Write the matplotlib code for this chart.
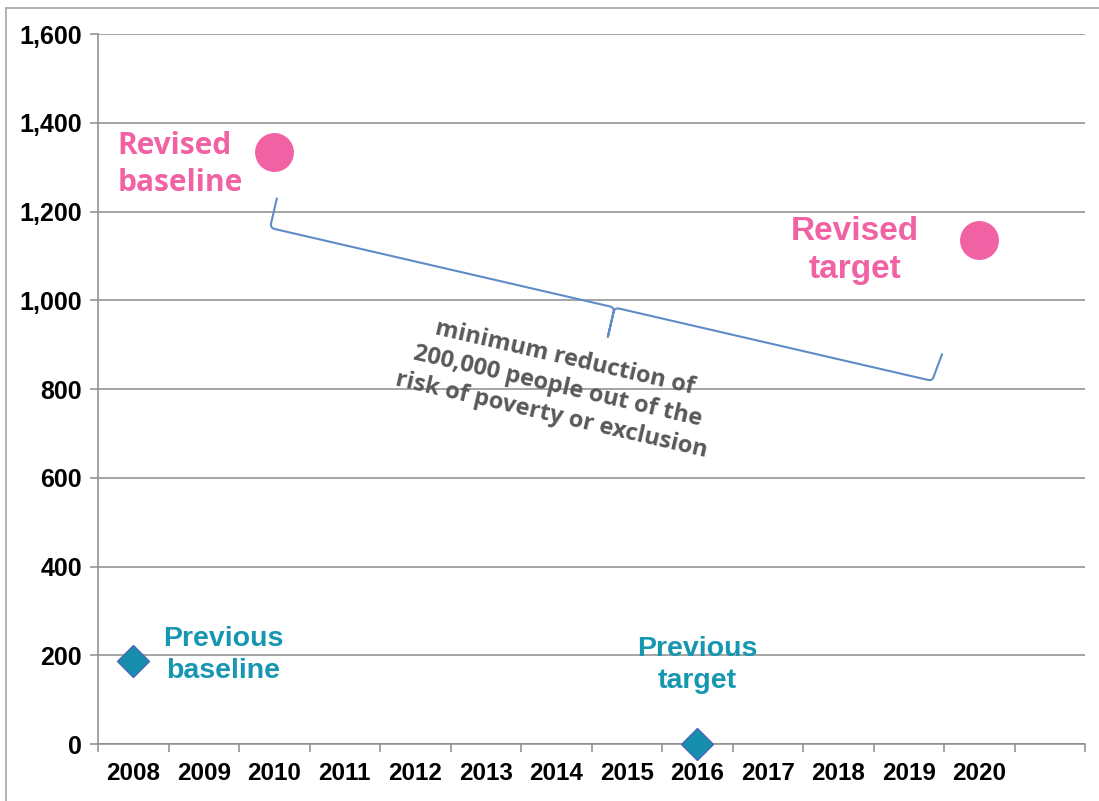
import numpy as np
import matplotlib.pyplot as plt
from matplotlib.lines import Line2D

# categories on the x axis (last slot is empty in the original chart)
years = ["2008", "2009", "2010", "2011", "2012", "2013", "2014",
         "2015", "2016", "2017", "2018", "2019", "2020", ""]

revised_years = ["2010", "2020"]
revised_values = [1335, 1135]
revised_labels = ["Revised\nbaseline", "Revised\ntarget"]

previous_years = ["2008", "2016"]
previous_values = [188, 0]
previous_labels = ["Previous\nbaseline", "Previous\ntarget"]

brace_text = "minimum reduction of\n200,000 people out of the\nrisk of poverty or exclusion"
brace_start = (1.94, 1163)   # data coords of the brace ends
brace_end = (11.34, 818)
brace_text_pos = (6.02, 805)

PINK = "#F062A4"
TEAL = "#1696B0"
DIAMOND = "#168FAF"
GRID = "#8C8C8C"
BRACE = "#5F8CC8"

W, H = 1099, 801
fig = plt.figure(figsize=(W / 100, H / 100), dpi=100)
ax = fig.add_axes([98 / W, 57 / H, 987 / W, 710 / H])

xpos = {y: i for i, y in enumerate(years)}
ax.set_xlim(-0.5, len(years) - 0.5)
ax.set_ylim(0, 1600)

# grid + axes styling
ax.set_yticks(np.arange(0, 1601, 200))
ax.set_yticklabels([f"{v:,}" for v in range(0, 1601, 200)])
ax.yaxis.grid(True, color=GRID, lw=1.1)
ax.set_axisbelow(True)
ax.set_xticks(np.arange(-0.5, len(years), 1.0))
ax.set_xticklabels([])
ax.set_xticks(np.arange(len(years)), minor=True)
ax.set_xticklabels(years, minor=True)
ax.tick_params(axis="x", which="major", length=6, width=1.1, color=GRID)
ax.tick_params(axis="x", which="minor", length=0, pad=13)
ax.tick_params(axis="y", length=5.5, width=1.1, color=GRID, pad=6)
for lab in ax.get_xticklabels(minor=True):
    lab.set_fontfamily("Liberation Sans")
    lab.set_fontweight("bold")
    lab.set_fontsize(17.5)
for lab in ax.get_yticklabels():
    lab.set_fontfamily("Liberation Sans")
    lab.set_fontweight("bold")
    lab.set_fontsize(18)
for s in ["top", "right"]:
    ax.spines[s].set_visible(False)
for s in ["left", "bottom"]:
    ax.spines[s].set_color(GRID)
    ax.spines[s].set_linewidth(1.1)

# points
rx = [xpos[y] for y in revised_years]
px = [xpos[y] for y in previous_years]
ax.plot(rx, revised_values, "o", ms=27, color=PINK, mec=PINK, ls="none",
        clip_on=False, zorder=5)
ax.plot(px, previous_values, "D", ms=16.5, color=DIAMOND, mec="#4A64BA",
        mew=1.0, ls="none", clip_on=False, zorder=5)

# labels (offsets in pixels)
ax.annotate(revised_labels[0], (rx[0], revised_values[0]), xytext=(-157, -13),
            textcoords="offset pixels", ha="left", va="center", color=PINK,
            fontsize=21.5, fontweight="bold", family="Open Sans", linespacing=1.3)
ax.annotate(revised_labels[1], (rx[1], revised_values[1]), xytext=(-124, -10),
            textcoords="offset pixels", ha="center", va="center", color=PINK,
            fontsize=24, fontweight="bold", family="Liberation Sans", linespacing=1.3)
ax.annotate(previous_labels[0], (px[0], previous_values[0]), xytext=(90, 6),
            textcoords="offset pixels", ha="center", va="center", color=TEAL,
            fontsize=20.5, fontweight="bold", family="Liberation Sans", linespacing=1.3)
ax.annotate(previous_labels[1], (px[1], previous_values[1]), xytext=(0, 79),
            textcoords="offset pixels", ha="center", va="center", color=TEAL,
            fontsize=20.5, fontweight="bold", family="Liberation Sans", linespacing=1.3)

# curly brace, built in display space then mapped back to data
p0 = ax.transData.transform(brace_start)
p1 = ax.transData.transform(brace_end)
d = p1 - p0
L = np.hypot(*d)
u = d / L
n = np.array([-u[1], u[0]])
q, r, sm = 30.0, 5.0, 0.52 * L


def corner(a, c, b, k=8):
    t = np.linspace(0, 1, k)[:, None]
    a, c, b = map(np.array, (a, c, b))
    return (1 - t) ** 2 * a + 2 * (1 - t) * t * c + t ** 2 * b


pts = np.vstack([
    [(0, q)],
    corner((0, r), (0, 0), (r, 0)),
    corner((sm - r, 0), (sm, 0), (sm, -r)),
    [(sm, -q)],
    corner((sm, -r), (sm, 0), (sm + r, 0)),
    corner((L - r, 0), (L, 0), (L, r)),
    [(L + 3, q - 2)],
])
disp = p0 + pts[:, :1] * u + pts[:, 1:] * n
data = ax.transData.inverted().transform(disp)
ax.plot(data[:, 0], data[:, 1], color=BRACE, lw=1.5, zorder=4)

angle = np.degrees(np.arctan2(d[1], d[0]))
ax.text(*brace_text_pos, brace_text, rotation=angle, rotation_mode="anchor",
        ha="center", va="center", color="#595959", fontsize=17,
        fontweight="bold", family="Open Sans", linespacing=1.3)

# outer frame of the chart area
fig.add_artist(Line2D([6 / W, 6 / W], [0, 1 - 8 / H], color="#A6A6A6", lw=1.2))
fig.add_artist(Line2D([6 / W, 1], [1 - 8 / H, 1 - 8 / H], color="#A6A6A6", lw=1.2))

fig.savefig("out.png", dpi=100)
